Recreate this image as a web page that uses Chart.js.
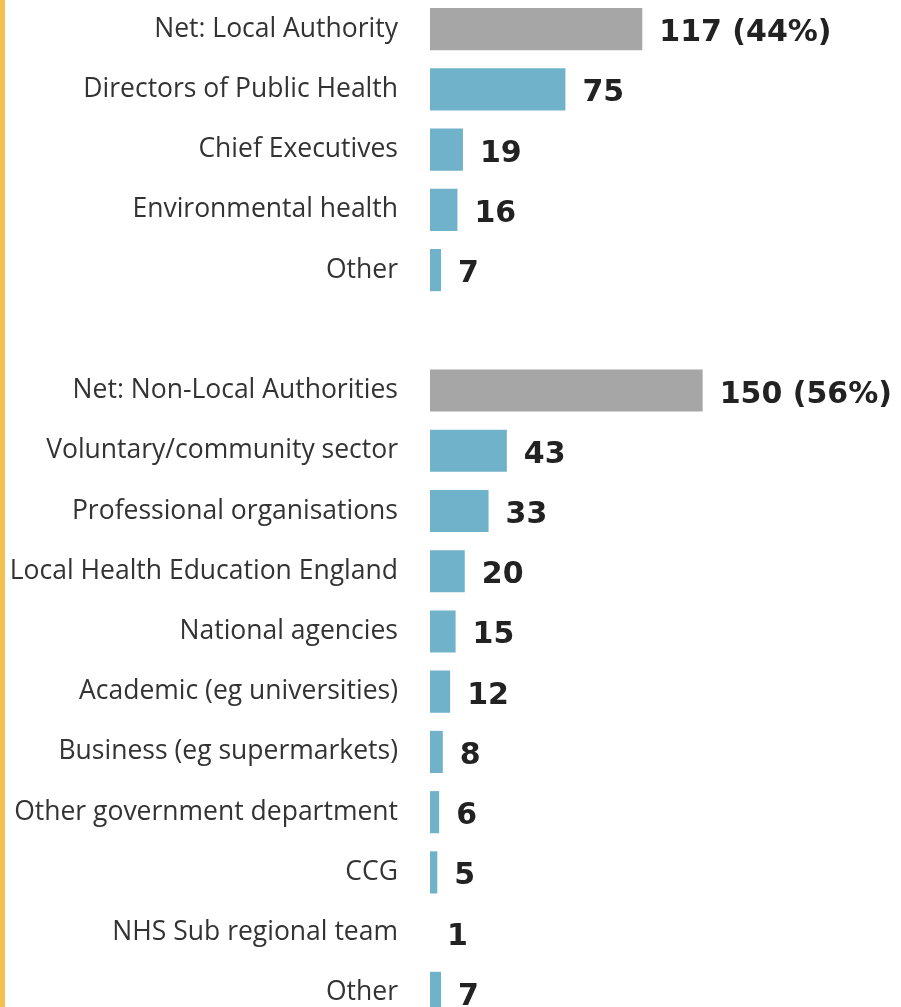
<!DOCTYPE html>
<html>
<head>
<meta charset="utf-8">
<script src="https://cdn.jsdelivr.net/npm/chart.js@4/dist/chart.umd.min.js"></script>
<style>
    html, body { margin: 0; padding: 0; background: #fff; overflow: hidden; }
    body { width: 901px; height: 1007px; position: relative; }
    .stripe { position: absolute; left: 0; top: 0; width: 5px; height: 1007px; background: #F2C14E; }
    #partnersChart { position: absolute; left: 0; top: -1px; }
</style>
</head>
<body>
<div class="stripe"></div>
<canvas id="partnersChart" width="901" height="1024"></canvas>
<script>
// categories (empty entry is the gap between the two groups)
const categories = [
    'Net: Local Authority',
    'Directors of Public Health',
    'Chief Executives',
    'Environmental health',
    'Other',
    '',
    'Net: Non-Local Authorities',
    'Voluntary/community sector',
    'Professional organisations',
    'Local Health Education England',
    'National agencies',
    'Academic (eg universities)',
    'Business (eg supermarkets)',
    'Other government department',
    'CCG',
    'NHS Sub regional team',
    'Other'
];
const counts = [117, 75, 19, 16, 7, null, 150, 43, 33, 20, 15, 12, 8, 6, 5, 1, 7];
const shares = ['44%', null, null, null, null, null, '56%', null, null, null, null, null, null, null, null, null, null];
const isNet = [true, false, false, false, false, false, true, false, false, false, false, false, false, false, false, false, false];

document.addEventListener('DOMContentLoaded', function() {

    const valueLabels = {
        id: 'valueLabels',
        afterDatasetsDraw: function(chart) {
            const ctx = chart.ctx;
            const meta = chart.getDatasetMeta(0);
            ctx.save();
            ctx.font = 'bold 30px "DejaVu Sans"';
            ctx.fillStyle = '#222222';
            ctx.textAlign = 'left';
            ctx.textBaseline = 'alphabetic';
            meta.data.forEach(function(bar, i) {
                if (counts[i] === null) return;
                let text = String(counts[i]);
                if (shares[i]) text += ' (' + shares[i] + ')';
                ctx.fillText(text, bar.x + 17, bar.y + 12);
            });
            ctx.restore();
        }
    };

    new Chart(document.getElementById('partnersChart'), {
        type: 'bar',
        data: {
            labels: categories,
            datasets: [{
                data: counts,
                backgroundColor: isNet.map(function(n) { return n ? '#A6A6A6' : '#70B2CA'; }),
                borderWidth: 0,
                barPercentage: 0.7,
                categoryPercentage: 1.0
            }]
        },
        options: {
            indexAxis: 'y',
            responsive: false,
            animation: false,
            layout: { padding: 0 },
            plugins: {
                legend: { display: false },
                tooltip: { enabled: false }
            },
            scales: {
                x: {
                    display: false,
                    min: 1,
                    max: 258.4
                },
                y: {
                    grid: { display: false, drawTicks: false },
                    border: { display: false },
                    ticks: {
                        padding: 32,
                        color: '#333333',
                        font: { family: '"Open Sans"', size: 26.5 }
                    },
                    afterFit: function(scale) {
                        scale.width = 430;
                        scale.paddingTop = 0;
                        scale.paddingBottom = 0;
                    }
                }
            }
        },
        plugins: [valueLabels]
    });
});
</script>
</body>
</html>
